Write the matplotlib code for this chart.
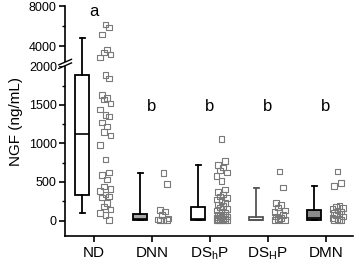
import numpy as np
import matplotlib
matplotlib.use("Agg")
import matplotlib.pyplot as plt
from matplotlib.patches import Rectangle

plt.rcParams['font.family'] = ['Liberation Sans', 'DejaVu Sans']

# ---------------- data ----------------
groups = ["ND", "DNN", "DS$_{\\mathregular{h}}$P", "DS$_{\\mathregular{H}}$P", "DMN"]
sig_letters = ["a", "b", "b", "b", "b"]

box_q1 = [330, 5, 5, 5, 10]
box_med = [1120, 20, 15, 10, 30]
box_q3 = [1890, 80, 180, 40, 130]
whisk_lo = [100, 5, 5, 5, 10]
whisk_hi = [4800, 610, 720, 425, 450]

nd_vals = [6170, 5870, 5170, 3670, 3370, 3170, 2870, 1890, 1840, 1630, 1590,
           1570, 1520, 1440, 1370, 1350, 1270, 1220, 1150, 1100, 980, 790,
           620, 590, 530, 440, 410, 380, 340, 310, 300, 230, 180, 140, 100,
           70, 10]
dnn_vals = [615, 470, 135, 115, 75, 25, 15, 10, 5, 5]
dshp_vals = [1060, 770, 720, 690, 650, 620, 575, 510, 400, 370, 340, 310, 290,
             270, 250, 230, 210, 190, 170, 150, 130, 110, 100, 80, 70, 60, 50,
             40, 30, 25, 20, 15, 10, 10, 5, 5, 5, 0]
dsHp_vals = [635, 430, 230, 200, 170, 130, 110, 95, 75, 50, 30, 20, 10, 5, 5]
dmn_vals = [635, 490, 445, 190, 180, 165, 150, 130, 115, 100, 90, 70, 50, 30,
            20, 10, 5, 5]
scatter_sets = [nd_vals, dnn_vals, dshp_vals, dsHp_vals, dmn_vals]

# ---------------- scale with break ----------------
BREAK = 2000.0
K = 0.13


def fwd(y):
    y = np.asarray(y, dtype=float)
    return np.where(y <= BREAK, y, BREAK + (y - BREAK) * K)


def inv(y):
    y = np.asarray(y, dtype=float)
    return np.where(y <= BREAK, y, BREAK + (y - BREAK) / K)


fig = plt.figure(figsize=(3.58, 2.66), dpi=100)
ax = fig.add_axes([0.182, 0.113, 0.803, 0.864])
ax.set_yscale('function', functions=(fwd, inv))
ax.set_ylim(-200, 8000)
ax.set_xlim(-0.495, 4.46)

# ---------------- boxes ----------------
box_face = ["white", "#a8a8a8", "white", "white", "#8c8c8c"]
box_edge = ["black", "black", "black", "#555555", "black"]
stats = []
for i in range(len(groups)):
    stats.append(dict(q1=box_q1[i], med=box_med[i], q3=box_q3[i],
                      whislo=whisk_lo[i], whishi=whisk_hi[i], fliers=[]))
pos = np.arange(len(groups))
for i, st in enumerate(stats):
    ax.bxp([st], positions=[pos[i] - 0.2], widths=0.24, patch_artist=True,
           showfliers=False, capwidths=0.09,
           boxprops=dict(facecolor=box_face[i], edgecolor=box_edge[i], linewidth=1.3),
           whiskerprops=dict(color=box_edge[i], linewidth=1.3),
           capprops=dict(color=box_edge[i], linewidth=1.3),
           medianprops=dict(color=box_edge[i], linewidth=1.2))

# ---------------- scatter (deterministic spread) ----------------
pattern = np.array([0.0, 0.06, -0.06, 0.03, -0.03, 0.09, -0.09])
for i, vals in enumerate(scatter_sets):
    v = np.array(vals, dtype=float)
    xs = pos[i] + 0.2 + pattern[np.arange(len(v)) % len(pattern)]
    ax.scatter(xs, v, s=16, marker='s', facecolors='none',
               edgecolors='#7a7a7a', linewidths=0.8, zorder=3)

# ---------------- letters ----------------
letter_y = [7500, 1480, 1480, 1480, 1480]
for i, t in enumerate(sig_letters):
    ax.text(pos[i], letter_y[i], t, ha='center', va='center', fontsize=12)

# ---------------- axes styling ----------------
for s in ['top', 'right']:
    ax.spines[s].set_visible(False)
for s in ['left', 'bottom']:
    ax.spines[s].set_linewidth(1.2)
ax.set_xticks(pos)
ax.set_xticklabels(groups, fontsize=11)
ax.set_yticks([0, 500, 1000, 1500, 2000, 4000, 8000])
ax.set_yticklabels(["0", "500", "1000", "1500", "2000", "4000", "8000"], fontsize=9)
ax.set_yticks([250, 750, 1250, 1750, 6000], minor=True)
ax.tick_params(axis='both', which='major', direction='out', length=4, width=1.2)
ax.tick_params(axis='y', which='minor', direction='out', length=2.5, width=1.0)
ax.tick_params(axis='x', which='minor', length=0)
ax.tick_params(axis='y', pad=2)
ax.tick_params(axis='x', pad=3)
ax.set_ylabel("NGF (ng/mL)", fontsize=11, labelpad=4)

# ---------------- break marks ----------------
to_ax = ax.transAxes.inverted()
y0 = to_ax.transform(ax.transData.transform((0, 2060)))[1]
y1 = to_ax.transform(ax.transData.transform((0, 2420)))[1]
ax.add_patch(Rectangle((-0.02, y0), 0.04, y1 - y0, transform=ax.transAxes,
                       facecolor='white', edgecolor='none', clip_on=False, zorder=5))
dy = 0.012
for yy in (y0, y1):
    ax.plot([-0.022, 0.022], [yy - dy, yy + dy], transform=ax.transAxes,
            color='black', lw=1.0, clip_on=False, zorder=6)

fig.savefig("out.png", dpi=100)
